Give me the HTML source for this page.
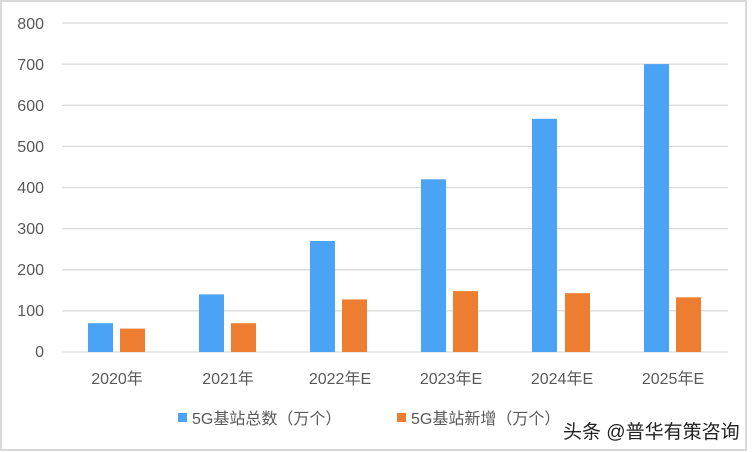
<!DOCTYPE html>
<html><head><meta charset="utf-8"><style>
body{margin:0;background:#fff}
svg{display:block}
text{font-family:"Liberation Sans","Noto Sans CJK SC",sans-serif;fill:#595959}
</style></head><body>
<svg width="752" height="452" viewBox="0 0 752 452">
<rect x="1" y="1" width="745" height="449" fill="#fff" stroke="#d9d9d9" stroke-width="2"/>
<g stroke="#d9d9d9" stroke-width="1.3">
<line x1="62" x2="728" y1="23" y2="23"/><line x1="62" x2="728" y1="64.1" y2="64.1"/>
<line x1="62" x2="728" y1="105.3" y2="105.3"/><line x1="62" x2="728" y1="146.4" y2="146.4"/>
<line x1="62" x2="728" y1="187.5" y2="187.5"/><line x1="62" x2="728" y1="228.6" y2="228.6"/>
<line x1="62" x2="728" y1="269.8" y2="269.8"/><line x1="62" x2="728" y1="310.9" y2="310.9"/>
<line x1="62" x2="728" y1="352" y2="352"/>
</g>
<g font-size="16" text-anchor="end">
<text x="44" y="29">800</text><text x="44" y="70">700</text><text x="44" y="111">600</text>
<text x="44" y="152">500</text><text x="44" y="193">400</text><text x="44" y="234">300</text>
<text x="44" y="275">200</text><text x="44" y="316">100</text><text x="44" y="357">0</text>
</g>
<g fill="#4aa3f5">
<rect x="88" y="323.2" width="25" height="28.8"/>
<rect x="199" y="294.4" width="25" height="57.6"/>
<rect x="310" y="241" width="25" height="111"/>
<rect x="421" y="179.3" width="25" height="172.7"/>
<rect x="532" y="118.8" width="25" height="233.2"/>
<rect x="644" y="64.1" width="25" height="287.9"/>
</g>
<g fill="#ed7d31">
<rect x="120" y="328.6" width="25" height="23.4"/>
<rect x="231" y="323.2" width="25" height="28.8"/>
<rect x="342" y="299.4" width="25" height="52.6"/>
<rect x="453" y="291.1" width="25" height="60.9"/>
<rect x="565" y="293.2" width="25" height="58.8"/>
<rect x="676" y="297.3" width="25" height="54.7"/>
</g>
<g font-size="16" text-anchor="middle">
<text x="117" y="384">2020年</text><text x="228" y="384">2021年</text>
<text x="340" y="384">2022年E</text><text x="451" y="384">2023年E</text>
<text x="562" y="384">2024年E</text><text x="673" y="384">2025年E</text>
</g>
<rect x="178" y="413" width="9" height="9" fill="#4aa3f5"/>
<text x="192" y="424" font-size="16">5G基站总数（万个）</text>
<rect x="397" y="413" width="9" height="9" fill="#ed7d31"/>
<text x="411" y="424" font-size="16">5G基站新增（万个）</text>
<text x="563" y="438" font-size="19" style="fill:#222">头条 @普华有策咨询</text>
</svg>
</body></html>
